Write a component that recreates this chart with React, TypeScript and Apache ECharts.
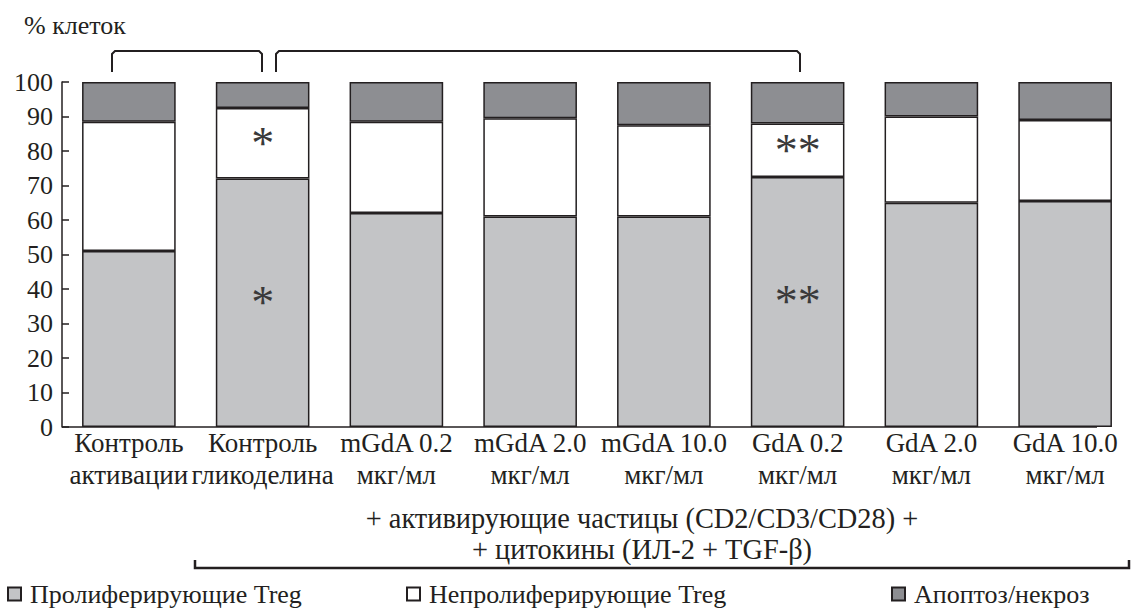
import React, { useEffect, useRef } from "react";
import * as echarts from "echarts";

const categories = [
  "Контроль\nактивации",
  "Контроль\nгликоделина",
  "mGdA 0.2\nмкг/мл",
  "mGdA 2.0\nмкг/мл",
  "mGdA 10.0\nмкг/мл",
  "GdA 0.2\nмкг/мл",
  "GdA 2.0\nмкг/мл",
  "GdA 10.0\nмкг/мл",
];
const seriesNames = ["Пролиферирующие Treg", "Непролиферирующие Treg", "Апоптоз/некроз"];
const proliferating = [51, 72, 62, 61, 61, 72.5, 65, 65.5];
const nonProliferating = [37.5, 20.5, 26.5, 28.5, 26.5, 15.5, 25, 23.5];
const apoptosis = [11.5, 7.5, 11.5, 10.5, 12.5, 12, 10, 11];
const significance = ["", "*", "", "", "", "**", "", ""];
const yMin = 0;
const yMax = 100;
const yStep = 10;
const yTitle = "% клеток";
const footLine1 = "+ активирующие частицы (CD2/CD3/CD28) +";
const footLine2 = "+ цитокины (ИЛ-2 + TGF-β)";

const INK = "#231f20";
const FONT = "Liberation Serif";

function withMarks(values: number[]) {
  return values.map((v, i) =>
    significance[i]
      ? {
          value: v,
          label: {
            show: true,
            formatter: significance[i],
            position: "inside",
            fontFamily: FONT,
            fontSize: 46,
            color: "#3a3a3a",
          },
        }
      : v
  );
}

export default function App() {
  const ref = useRef<HTMLDivElement>(null);
  useEffect(() => {
    if (!ref.current) return;
    const chart = echarts.init(ref.current, undefined, { renderer: "svg" });
    const barBase = {
      type: "bar",
      stack: "total",
      barCategoryGap: "30%",
      emphasis: { disabled: true },
    };
    const legendBase = {
      icon: "rect",
      itemWidth: 13,
      itemHeight: 13,
      padding: 0,
      textStyle: { fontFamily: FONT, fontSize: 26, lineHeight: 26, color: INK, padding: [0, 0, 0, 4] },
    };
    chart.setOption({
      animation: false,
      textStyle: { fontFamily: FONT },
      grid: { left: 62, top: 82, width: 1070, height: 345 },
      legend: [
        { ...legendBase, data: [seriesNames[0]], left: 7, top: 581 },
        { ...legendBase, data: [seriesNames[1]], left: 406, top: 581 },
        { ...legendBase, data: [seriesNames[2]], left: 891, top: 581 },
      ],
      xAxis: {
        type: "category",
        data: categories,
        axisLine: { show: false },
        axisTick: { show: false },
        axisLabel: {
          interval: 0,
          margin: 0,
          fontFamily: FONT,
          fontSize: 27,
          lineHeight: 32,
          color: INK,
        },
      },
      yAxis: {
        type: "value",
        min: yMin,
        max: yMax,
        interval: yStep,
        splitLine: { show: false },
        axisLine: { show: true, lineStyle: { color: INK, width: 1.5 } },
        axisTick: { show: true, inside: true, length: 7, lineStyle: { color: INK, width: 1.5 } },
        axisLabel: { margin: 9, fontFamily: FONT, fontSize: 26, color: INK },
      },
      series: [
        {
          ...barBase,
          name: seriesNames[0],
          data: withMarks(proliferating),
          itemStyle: { color: "#c3c4c6", borderColor: INK, borderWidth: 1.5 },
        },
        {
          ...barBase,
          name: seriesNames[1],
          data: withMarks(nonProliferating),
          itemStyle: { color: "#ffffff", borderColor: INK, borderWidth: 1.5 },
        },
        {
          ...barBase,
          name: seriesNames[2],
          data: apoptosis,
          itemStyle: { color: "#8d8e92", borderColor: INK, borderWidth: 1.5 },
        },
      ],
      graphic: [
        {
          type: "text",
          left: 24,
          top: 12,
          style: { text: yTitle, fontFamily: FONT, fontSize: 26, fill: INK },
        },
        {
          type: "line",
          shape: { x1: 62, y1: 427, x2: 1097, y2: 427 },
          style: { stroke: INK, lineWidth: 1.5 },
        },
        {
          type: "polyline",
          shape: { points: [[112, 72], [112, 54], [115, 51], [259, 51], [262, 54], [262, 72]] },
          style: { stroke: INK, lineWidth: 2, fill: null },
        },
        {
          type: "polyline",
          shape: { points: [[276, 72], [276, 54], [279, 51], [797, 51], [800, 54], [800, 72]] },
          style: { stroke: INK, lineWidth: 2, fill: null },
        },
        {
          type: "polyline",
          shape: { points: [[195, 560], [195, 568], [1129, 568], [1129, 560]] },
          style: { stroke: INK, lineWidth: 2.5, fill: null },
        },
        {
          type: "text",
          x: 642,
          y: 518,
          style: { text: footLine1, fontFamily: FONT, fontSize: 28.4, fill: INK, align: "center", verticalAlign: "middle" },
        },
        {
          type: "text",
          x: 642,
          y: 549,
          style: { text: footLine2, fontFamily: FONT, fontSize: 28.4, fill: INK, align: "center", verticalAlign: "middle" },
        },
      ],
    });
    return () => chart.dispose();
  }, []);
  return (
    <div
      ref={ref}
      style={{ position: "absolute", left: 0, top: 0, width: 1132, height: 612, background: "#fff" }}
    />
  );
}
